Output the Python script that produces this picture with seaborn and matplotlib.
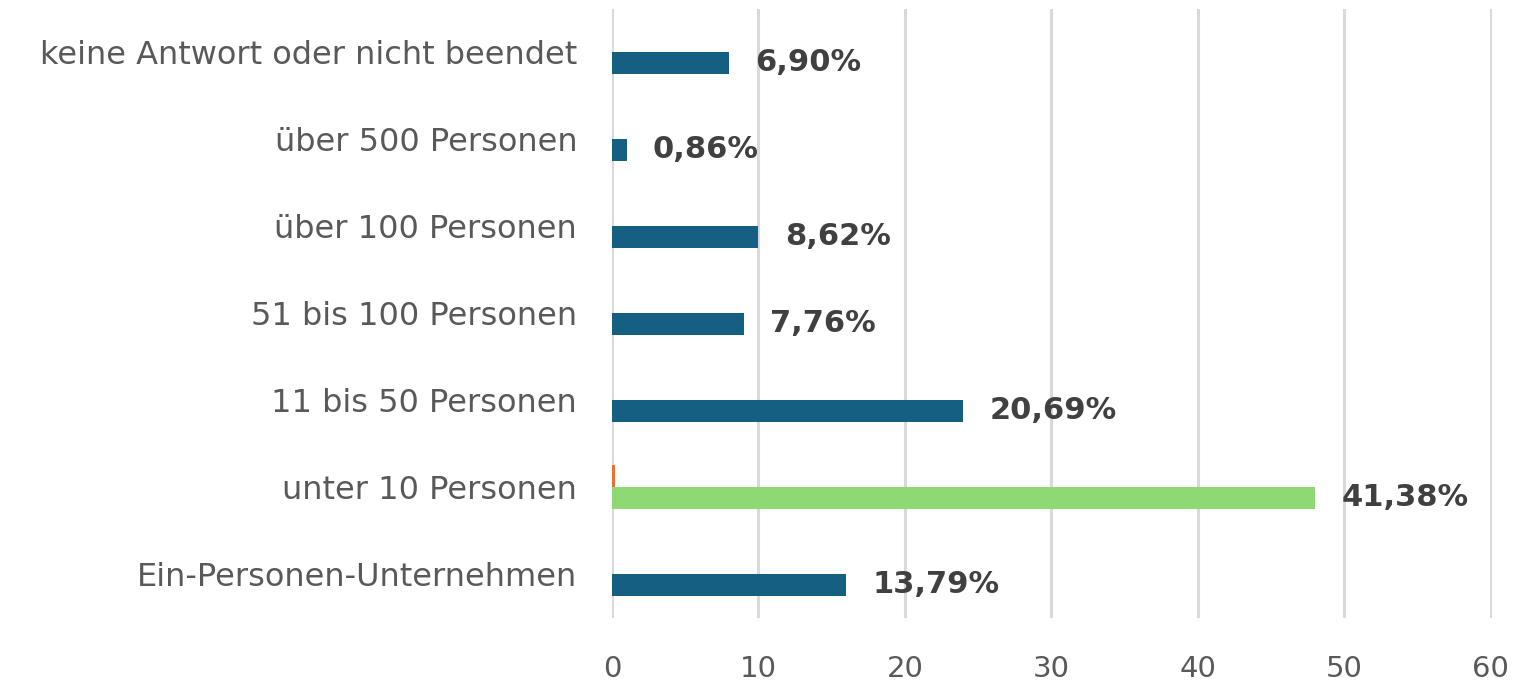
import pandas as pd
import matplotlib.pyplot as plt
import seaborn as sns

# --- DATA ---
categories = [
    "keine Antwort oder nicht beendet",
    "über 500 Personen",
    "über 100 Personen",
    "51 bis 100 Personen",
    "11 bis 50 Personen",
    "unter 10 Personen",
    "Ein-Personen-Unternehmen",
]
counts = [8, 1, 10, 9, 24, 48, 16]
other = [0, 0, 0, 0, 0, 0.2, 0]
pct_labels = ["6,90%", "0,86%", "8,62%", "7,76%", "20,69%", "41,38%", "13,79%"]
highlight = "unter 10 Personen"

# --- STYLE ---
sns.set_theme(style="white")
plt.rcParams['font.family'] = ['DejaVu Sans']

blue = "#156082"
green = "#8ED973"
orange = "#E97132"
grid_col = "#D9D9D9"
text_col = "#595959"

df = pd.DataFrame({
    "Kategorie": categories * 2,
    "Wert": other + counts,
    "Reihe": ["andere"] * len(categories) + ["Anzahl"] * len(categories),
})

fig = plt.figure(figsize=(15.2, 6.85), dpi=100)
ax = fig.add_axes([0.4026, 0.0985, 0.5790, 0.889])

sns.barplot(data=df, x="Wert", y="Kategorie", hue="Reihe", order=categories,
            hue_order=["andere", "Anzahl"], palette=[orange, blue],
            saturation=1, orient="h", width=0.5, gap=0, linewidth=0,
            legend=False, ax=ax)

# highlight bar
main = ax.containers[1]
main[categories.index(highlight)].set_facecolor(green)

ax.bar_label(main, labels=pct_labels, padding=19, fontsize=22,
             fontweight="bold", color="#404040")

ax.set_xlim(0, 60.1)
ax.set_xticks(range(0, 61, 10))
ax.xaxis.grid(True, color=grid_col, linewidth=2.2)
ax.set_axisbelow(True)
for s in ax.spines.values():
    s.set_visible(False)

ax.set_xlabel("")
ax.set_ylabel("")
ax.tick_params(axis="y", length=0, pad=25, labelsize=23, labelcolor=text_col)
ax.tick_params(axis="x", length=0, pad=27, labelsize=21, labelcolor=text_col)

fig.savefig("out.png", dpi=100)
